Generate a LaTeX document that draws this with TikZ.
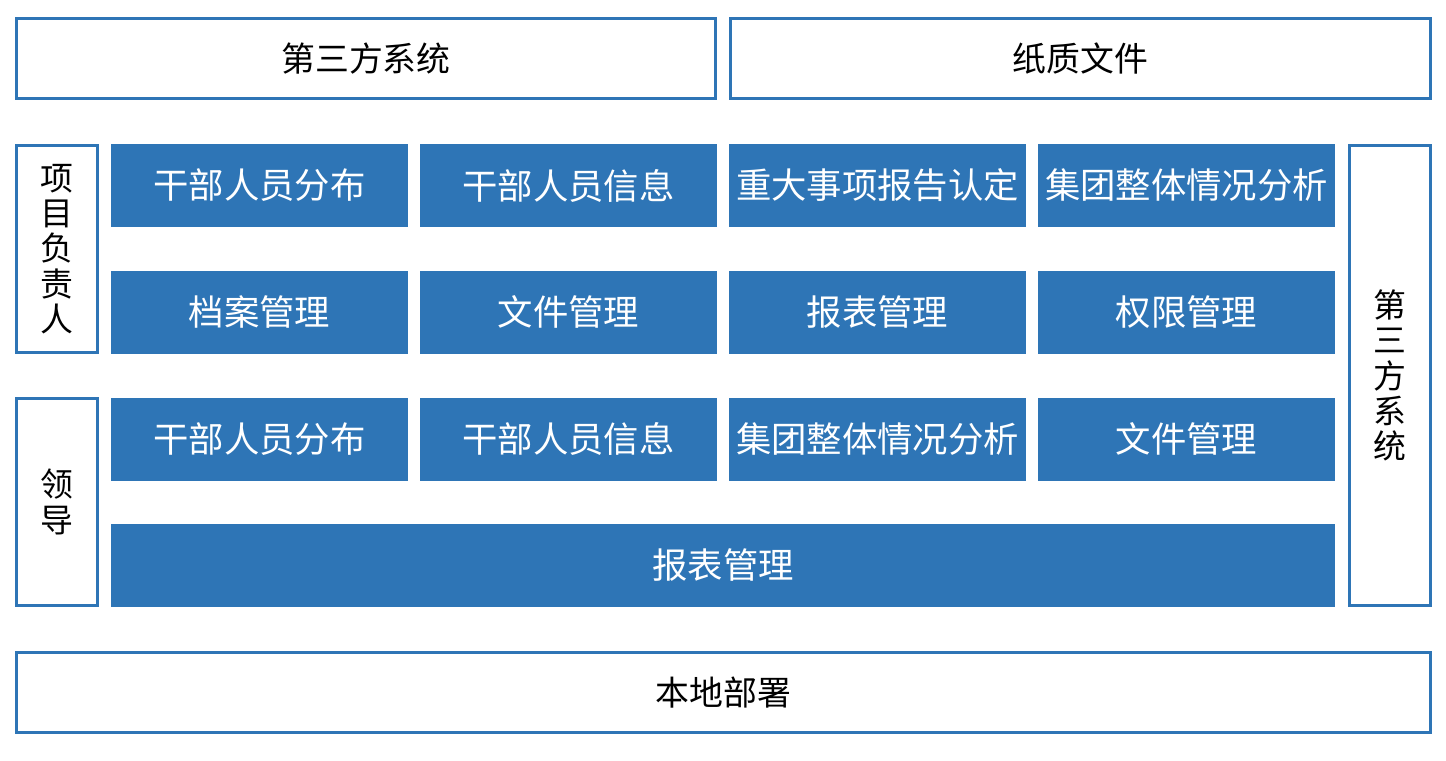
\documentclass[tikz,border=0pt]{standalone}
\usepackage{fontspec}
\newfontfamily\cjk{Noto Sans CJK SC}
\usepackage{tikz}
\definecolor{boxblue}{RGB}{46,117,182}

\begin{document}
\begin{tikzpicture}[x=1bp,y=-1bp,
  cell/.style={rectangle,fill=boxblue,text=white,inner sep=0pt,
    minimum width=297bp,minimum height=83bp,font=\cjk\fontsize{35.5}{40}\selectfont},
  frame/.style={rectangle,draw=boxblue,line width=3bp,fill=white,inner sep=0pt,
    font=\cjk\fontsize{34}{40}\selectfont},
  side/.style={frame,minimum width=81bp,align=center,
    font=\cjk\fontsize{33}{35.5}\selectfont}]
\useasboundingbox (0,0) rectangle (1446,760);

% top boxes
  \node[frame,minimum width=699bp,minimum height=80bp] (third) at (366,58.5) {第三方系统};
  \node[frame,minimum width=700bp,minimum height=80bp] (paper) at (1080.5,58.5) {纸质文件};

% side boxes
  \node[side,minimum height=207bp] (owner) at (57,249) {项\\目\\负\\责\\人};
  \node[side,minimum height=207bp] (leader) at (57,502) {领\\导};
  \node[side,minimum height=460bp] (thirdside) at (1390,375.5) {第\\三\\方\\系\\统};

% first row
  \node[cell] (dist1) at (259.5,185.5) {干部人员分布};
  \node[cell] (info1) at (568.5,185.5) {干部人员信息};
  \node[cell] (event) at (877.5,185.5) {重大事项报告认定};
  \node[cell] (group1) at (1186.5,185.5) {集团整体情况分析};

% second row
  \node[cell] (archive) at (259.5,312) {档案管理};
  \node[cell] (file1) at (568.5,312) {文件管理};
  \node[cell] (report1) at (877.5,312) {报表管理};
  \node[cell] (right) at (1186.5,312) {权限管理};

% third row
  \node[cell] (dist2) at (259.5,439) {干部人员分布};
  \node[cell] (info2) at (568.5,439) {干部人员信息};
  \node[cell] (group2) at (877.5,439) {集团整体情况分析};
  \node[cell] (file2) at (1186.5,439) {文件管理};

% wide row
  \node[cell,minimum width=1224bp] (report2) at (723,565.5) {报表管理};

% bottom box
  \node[frame,minimum width=1414bp,minimum height=80bp] (local) at (723.5,692.5) {本地部署};

\end{tikzpicture}
\end{document}
